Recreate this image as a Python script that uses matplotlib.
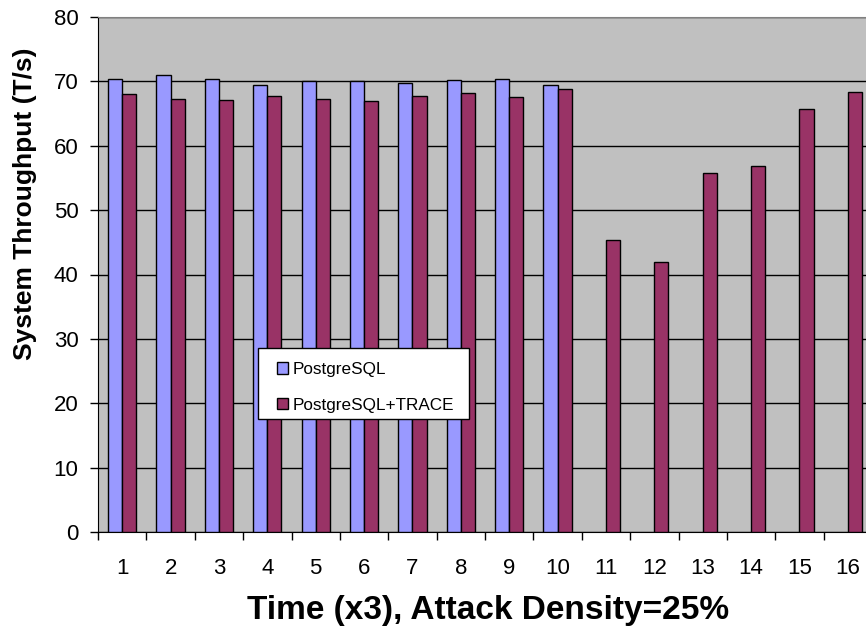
import numpy as np
import matplotlib
matplotlib.use("Agg")
import matplotlib.pyplot as plt
from matplotlib.patches import Rectangle

plt.rcParams["font.family"] = ["Liberation Sans", "DejaVu Sans"]

# data
periods = list(range(1, 17))
postgres = [70.3, 71.0, 70.4, 69.5, 70.1, 70.0, 69.8, 70.2, 70.3, 69.4,
            0, 0, 0, 0, 0, 0]
postgres_trace = [68.1, 67.2, 67.1, 67.8, 67.2, 67.0, 67.8, 68.2, 67.5, 68.8,
                  45.3, 42.0, 55.7, 56.8, 65.7, 68.3]
labels = ["PostgreSQL", "PostgreSQL+TRACE"]

blue = "#9999FF"
purple = "#993366"

fig = plt.figure(figsize=(8.66, 6.34), dpi=100)
ax = fig.add_axes([98 / 866, 1 - 532 / 634, 774 / 866, 515 / 634])
ax.set_facecolor("#C0C0C0")

x = np.array(periods)
w = 0.293
# only draw non-zero blue bars
pg = np.array(postgres)
mask = pg > 0
ax.bar(x[mask] - w, pg[mask], width=w, align="edge", color=blue,
       edgecolor="black", linewidth=1, label=labels[0], zorder=3)
ax.bar(x, postgres_trace, width=w, align="edge", color=purple,
       edgecolor="black", linewidth=1, label=labels[1], zorder=3)

ax.set_xlim(0.5, 16.5)
ax.set_ylim(0, 80)
ax.set_yticks(range(0, 81, 10))
ax.set_xticks(periods)
ax.set_xticks(np.arange(0.5, 17, 1), minor=True)
ax.tick_params(axis="x", which="major", length=0, pad=19, labelsize=16)
ax.tick_params(axis="x", which="minor", length=6, width=1, direction="out")
ax.tick_params(axis="y", length=6, width=1, direction="out", pad=8, labelsize=16)

ax.yaxis.grid(True, color="black", linewidth=1, zorder=1)
ax.set_axisbelow(True)
ax.spines["top"].set_color("#808080")
ax.spines["right"].set_color("#808080")
ax.spines["left"].set_color("black")
ax.spines["bottom"].set_color("black")

# legend box drawn separately so its size matches
ax.add_patch(Rectangle((0.2063, 0.2188), 0.2734, 0.1379, transform=ax.transAxes,
                       facecolor="white", edgecolor="black", linewidth=1,
                       zorder=4))
leg = ax.legend(loc="upper left", bbox_to_anchor=(0.2309, 0.330),
                fontsize=12.3, frameon=False, handlelength=0.66,
                handleheight=0.66, handletextpad=0.3, labelspacing=1.2,
                borderpad=0, borderaxespad=0)
leg.set_zorder(5)

fig.text(25 / 866, 1 - 204 / 634, "System Throughput (T/s)", rotation=90,
         ha="center", va="center", fontsize=19, fontweight="bold")
fig.text(488 / 866, 1 - 619 / 634, "Time (x3), Attack Density=25%",
         ha="center", va="baseline", fontsize=24, fontweight="bold")

fig.savefig("out.png", dpi=100)
